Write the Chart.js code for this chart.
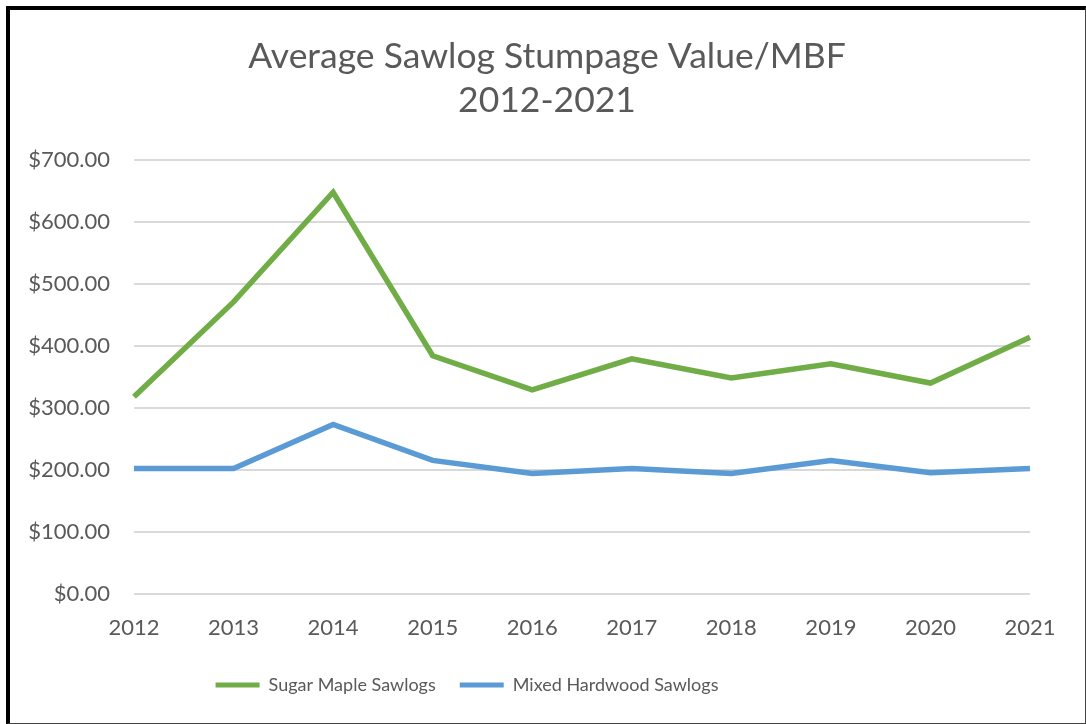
<!DOCTYPE html>
<html>
<head>
<meta charset="utf-8">
<script src="https://cdn.jsdelivr.net/npm/chart.js@4"></script>
<style>
    html, body { margin: 0; padding: 0; background: #fff; }
    #wrap { position: relative; width: 1086px; height: 724px; }
    #frame {
        position: absolute; left: 6px; top: 6px; right: 0; bottom: 0;
        border-left: 4px solid #000; border-top: 4px solid #000;
        border-right: 1px solid #444; border-bottom: 1px solid #444;
        pointer-events: none;
    }
    canvas { position: absolute; left: 0; top: 0; }
</style>
</head>
<body>
<div id="wrap">
    <canvas id="stumpageChart" width="1086" height="724"></canvas>
    <div id="frame"></div>
</div>
<script>
    var years = ['2012', '2013', '2014', '2015', '2016', '2017', '2018', '2019', '2020', '2021'];
    var sugarMaple = [318, 471, 648, 384, 329, 379, 348, 371, 340, 414];
    var mixedHardwood = [202, 202, 273, 215, 194, 202, 194, 215, 195, 202];
    var seriesNames = ['Sugar Maple Sawlogs', 'Mixed Hardwood Sawlogs'];
    var titleLines = ['Average Sawlog Stumpage Value/MBF', '2012-2021'];

    var fontFamily = 'Lato, "Noto Sans", sans-serif';
    var textGray = '#595959';

    // title and legend are not centred on the plot in the original
    var titleShiftX = 20;
    var legendShiftX = -60;
    var legendShiftY = -10;
    const boxMover = {
        id: 'boxMover',
        afterLayout: function(chart) {
            var t = chart.titleBlock;
            if (t) {
                t.left += titleShiftX;
                t.right += titleShiftX;
            }
            var lg = chart.legend;
            if (lg) {
                lg.left += legendShiftX;
                lg.right += legendShiftX;
                lg.top += legendShiftY;
                lg.bottom += legendShiftY;
            }
        }
    };

    const ctx = document.getElementById('stumpageChart');

    const chart = new Chart(ctx, {
        type: 'line',
        data: {
            labels: years,
            datasets: [{
                label: seriesNames[0],
                data: sugarMaple,
                borderColor: '#70AD47',
                backgroundColor: '#70AD47',
                borderWidth: 5.5,
                pointRadius: 0,
                tension: 0,
            }, {
                label: seriesNames[1],
                data: mixedHardwood,
                borderColor: '#5B9BD5',
                backgroundColor: '#5B9BD5',
                borderWidth: 5.5,
                pointRadius: 0,
                tension: 0,
            }]
        },
        plugins: [boxMover],
        options: {
            responsive: false,
            animation: false,
            layout: {
                padding: { left: 24, right: 56, top: 35, bottom: 10 }
            },
            plugins: {
                title: {
                    display: true,
                    text: titleLines,
                    color: textGray,
                    font: { family: fontFamily, size: 35.5, weight: 'normal', lineHeight: 1.24 },
                    padding: { top: 0, bottom: 37 },
                },
                legend: {
                    position: 'bottom',
                    labels: {
                        color: textGray,
                        font: { family: fontFamily, size: 18 },
                        boxWidth: 44,
                        boxHeight: 5,
                        padding: 24,
                        generateLabels: function(chart) {
                            var items = Chart.defaults.plugins.legend.labels.generateLabels(chart);
                            items.forEach(function(item) {
                                item.fillStyle = item.strokeStyle;
                                item.lineWidth = 0;
                            });
                            return items;
                        }
                    }
                },
                tooltip: { enabled: false }
            },
            scales: {
                x: {
                    offset: false,
                    grid: { display: false, drawTicks: false },
                    border: { display: false },
                    ticks: {
                        color: textGray,
                        font: { family: fontFamily, size: 22 },
                        padding: 21,
                        maxRotation: 0,
                    }
                },
                y: {
                    min: 0,
                    max: 700,
                    grid: { color: '#D9D9D9', lineWidth: 2, drawTicks: false },
                    border: { display: false },
                    afterFit: function(scale) { scale.width = 110; },
                    ticks: {
                        stepSize: 100,
                        color: textGray,
                        font: { family: fontFamily, size: 22 },
                        padding: 24,
                        callback: function(value) { return '$' + value.toFixed(2); }
                    }
                }
            }
        }
    });
</script>
</body>
</html>
